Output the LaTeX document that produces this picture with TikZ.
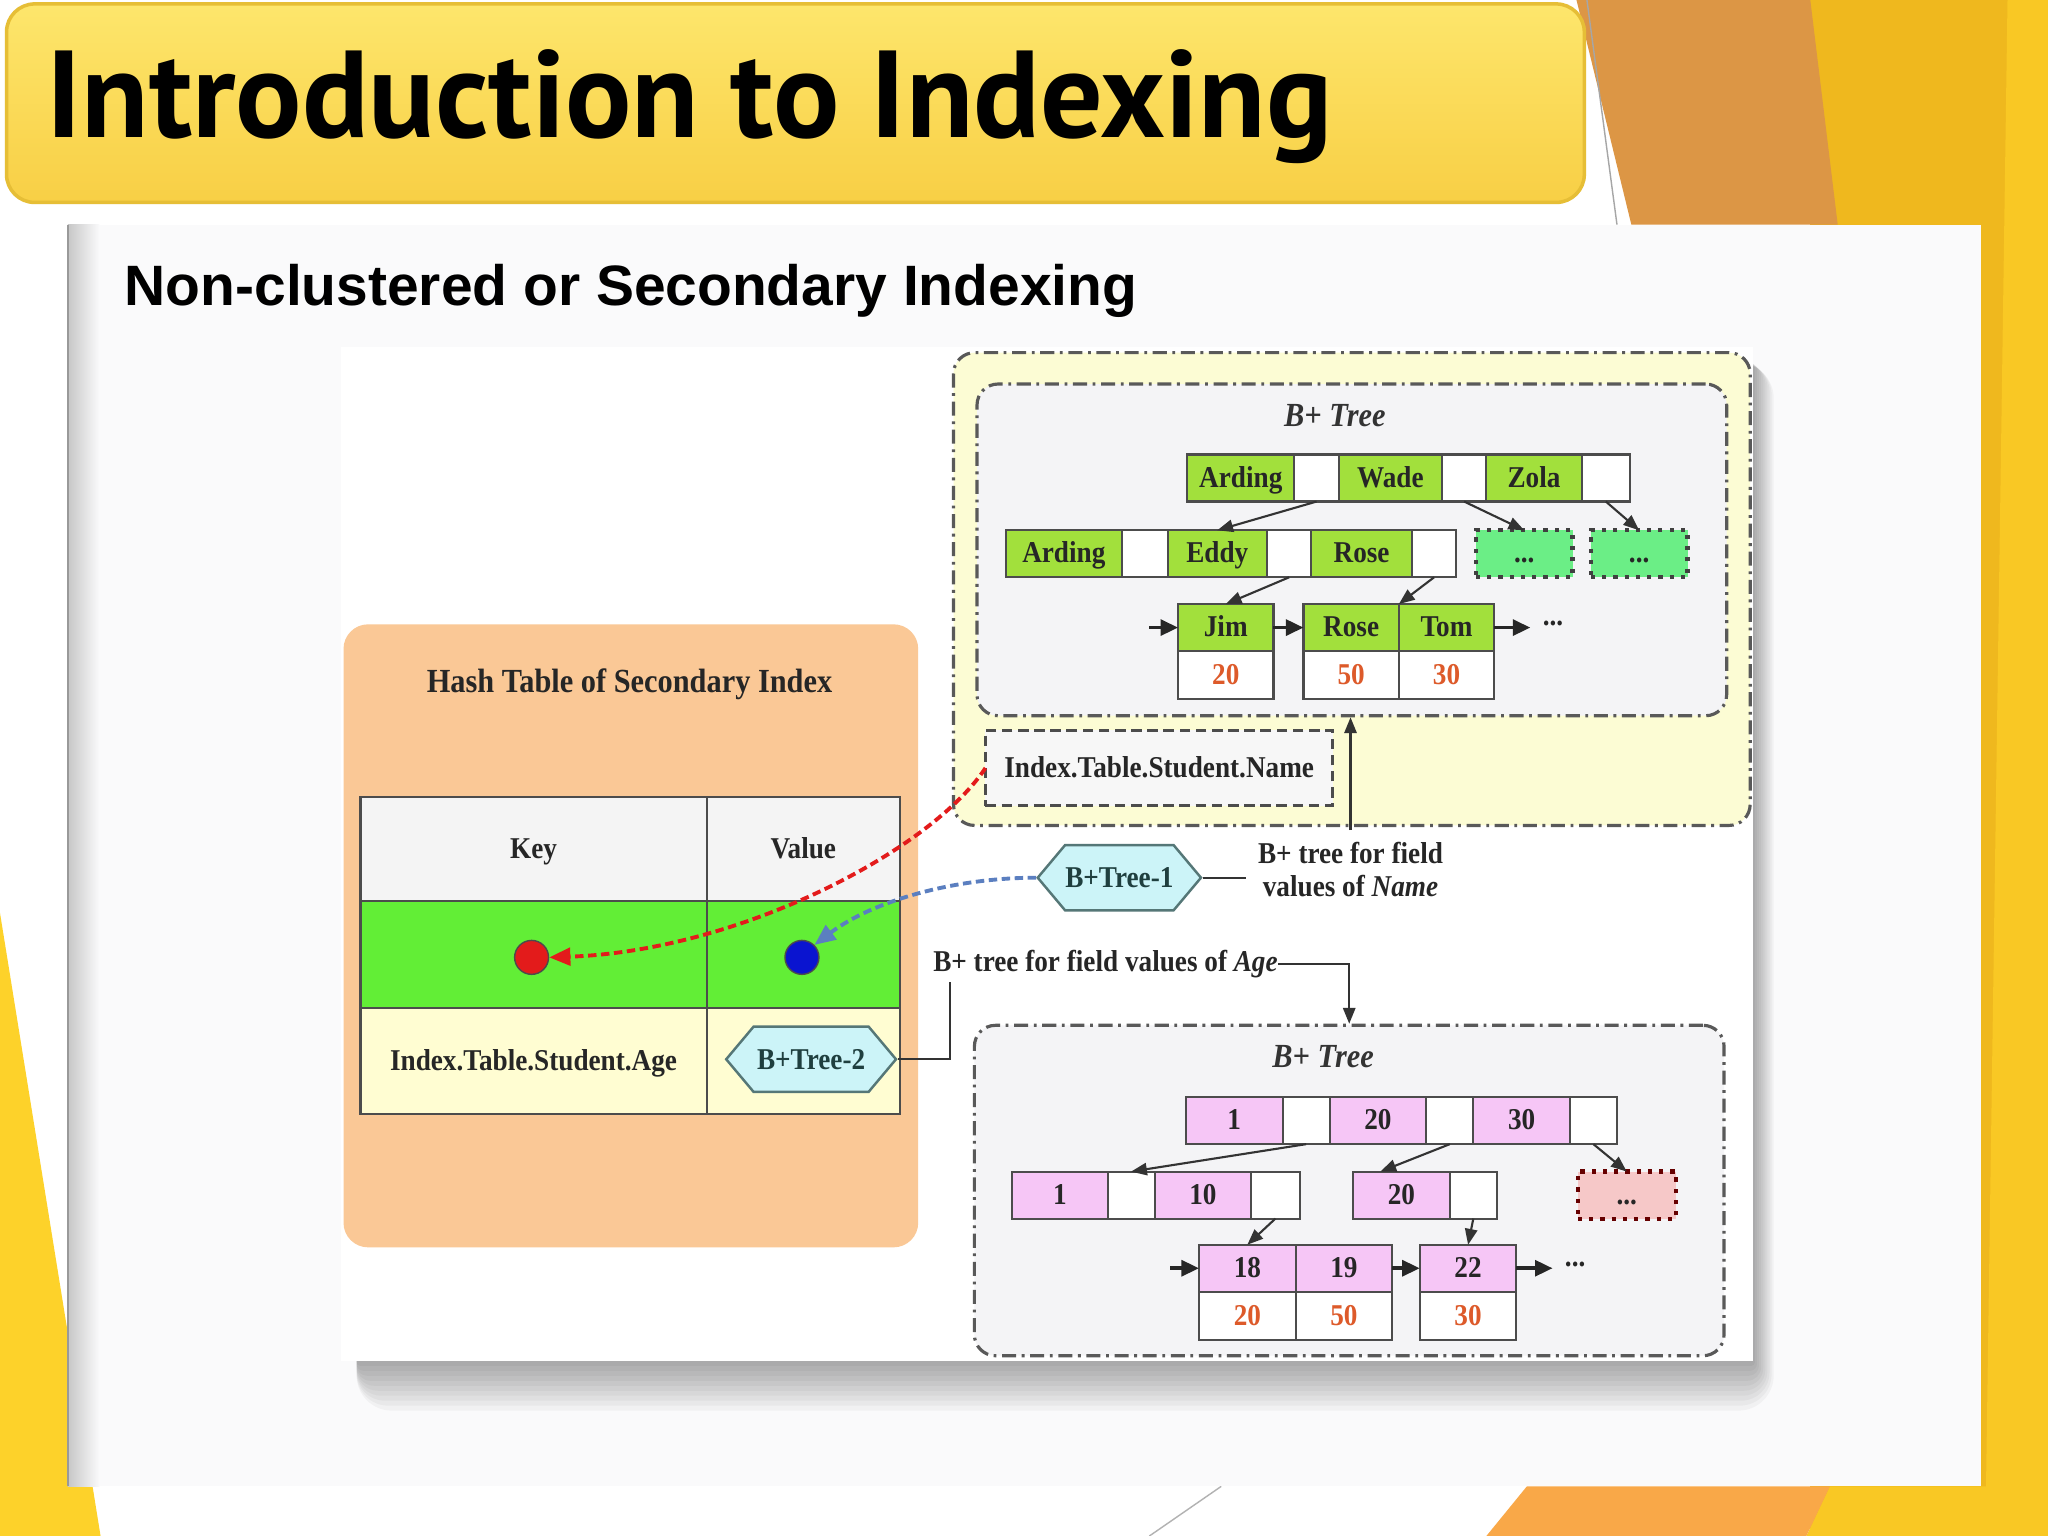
\documentclass[tikz,border=0pt]{standalone}
\usepackage{fontspec}
\setmainfont{Liberation Serif}[FakeStretch=0.9]
\newfontfamily\headfont{PT Sans}
\newfontfamily\subfont{Liberation Sans}
\usetikzlibrary{arrows.meta, positioning, shapes.symbols}
\definecolor{BannerTop}{HTML}{FDE66C}
\definecolor{BannerBot}{HTML}{F8CF45}
\definecolor{BannerEdge}{HTML}{E6BE36}
\definecolor{FacetOrange}{HTML}{DC9645}
\definecolor{FacetAmber}{HTML}{EFB81E}
\definecolor{FacetYellow}{HTML}{F9C824}
\definecolor{FacetPeach}{HTML}{F9A848}
\definecolor{FacetLeft}{HTML}{FDD22A}
\definecolor{PanelBg}{HTML}{FAFAFB}
\definecolor{HashPeach}{HTML}{FAC896}
\definecolor{HeadGray}{HTML}{F4F4F4}
\definecolor{RowGreen}{HTML}{62EE36}
\definecolor{RowCream}{HTML}{FFFDD2}
\definecolor{TreeCream}{HTML}{FCFCD4}
\definecolor{TreeGray}{HTML}{F4F4F6}
\definecolor{LeafGreen}{HTML}{A2E03C}
\definecolor{MintDots}{HTML}{6BEE86}
\definecolor{KeyPink}{HTML}{F6C6F6}
\definecolor{PinkDots}{HTML}{F6C8C8}
\definecolor{ValRed}{HTML}{DD5A2A}
\definecolor{HexCyan}{HTML}{CCF4F8}
\definecolor{HexEdge}{HTML}{557777}
\definecolor{HexText}{HTML}{1F3F3F}
\definecolor{DotRed}{HTML}{E31B1B}
\definecolor{DotBlue}{HTML}{0A14D0}
\definecolor{LinkBlue}{HTML}{5B7FC0}
\def\ux{0.3716pt}

\begin{document}
\begin{tikzpicture}[
    x=0.01306cm, y=-0.01306cm,
    txt/.style={font=\fontsize{8.6}{10}\selectfont\bfseries, text=black!85},
    wd/.style={minimum width=#1*\ux},
    cell/.style={txt, draw=black!70, line width=0.6pt, minimum height=36*\ux, inner sep=0pt, outer sep=0pt, text height=6.6pt, text depth=1.4pt},
    gcell/.style={cell, fill=LeafGreen},
    pcell/.style={cell, fill=KeyPink},
    ecell/.style={cell, fill=white},
    vcell/.style={cell, fill=white, text=ValRed, minimum height=37*\ux},
    dotbox/.style={cell, draw=black!75, line width=1.2pt, dotted},
    frame/.style={draw=black!65, line width=0.9pt, dash pattern=on 4pt off 1.6pt on 0.8pt off 1.6pt, rounded corners=6pt, inner sep=0pt},
    hexa/.style={signal, signal to=east and west, signal pointer angle=100, draw=HexEdge, line width=0.7pt, fill=HexCyan, txt, text=HexText, minimum height=50*\ux, inner sep=0pt},
    link/.style={-{Triangle[length=4.5pt,width=3.5pt]}, line width=0.6pt, draw=black!80},
    next/.style={-{Triangle[length=5pt,width=4.5pt]}, line width=1pt, draw=black!85},
    ttl/.style={font=\fontsize{9.6}{11}\selectfont\bfseries\itshape, text=black!80}
]
\useasboundingbox (0,0) rectangle (1568,1176);
\fill[white] (0,0) rectangle (1568,1176);

% slide background
\fill[FacetAmber] (1386,0) -- (1568,0) -- (1568,1176) -- (1386,1176) -- cycle;
\fill[FacetYellow] (1537,0) -- (1568,0) -- (1568,1176) -- (1520,1176) -- cycle;
\fill[FacetOrange] (1207,0) -- (1386,0) -- (1407,172) -- (1249,172) -- cycle;
\draw[black!35, line width=0.4pt] (1215,0) -- (1238,172);
\fill[FacetYellow] (1401,1138) -- (1568,1138) -- (1568,1176) -- (1383,1176) -- cycle;
\fill[FacetPeach] (1169,1138) -- (1401,1138) -- (1383,1176) -- (1138,1176) -- cycle;
\draw[black!30, line width=0.4pt] (935,1138) -- (880,1176);
\fill[FacetLeft] (0,699) -- (77,1176) -- (0,1176) -- cycle;

% title banner
\shade[top color=BannerTop, bottom color=BannerBot, draw=BannerEdge, line width=1pt, rounded corners=8pt] (5,3) rectangle (1213,155);
\node[anchor=base west, inner sep=0pt, font=\headfont\bfseries\fontsize{35.2}{40}\selectfont] (title) at (35,105) {Introduction to Indexing};

% white panel
\fill[PanelBg] (52,172) rectangle (1517,1138);
\shade[left color=black!22, right color=PanelBg] (52,172) rectangle (76,1138);
\draw[black!40, line width=0.5pt] (52,172) -- (52,1138);
\node[anchor=base west, inner sep=0pt, font=\subfont\bfseries\fontsize{16.2}{19}\selectfont] (subtitle) at (95,234) {Non-clustered or Secondary Indexing};

% picture with its shadow
\foreach \i in {1,...,10}
  \fill[black, opacity=0.035, rounded corners=\i] (273,278) rectangle (1342+1.6*\i,1042+3.8*\i);
\fill[white] (261,266) rectangle (1342,1042);

% --- hash table ---
\fill[HashPeach, rounded corners=7pt] (263,478) rectangle (703,955);
\node[txt, font=\fontsize{9.6}{11}\selectfont\bfseries] (hashtitle) at (482,524) {Hash Table of Secondary Index};
\node[cell, fill=HeadGray, wd=265, minimum height=80*\ux] (keyhead) at (408.5,650) {Key};
\node[cell, fill=HeadGray, wd=148, minimum height=80*\ux] (valhead) at (615,650) {Value};
\node[cell, fill=RowGreen, wd=265, minimum height=82*\ux] (keyrow) at (408.5,731) {};
\node[cell, fill=RowGreen, wd=148, minimum height=82*\ux] (valrow) at (615,731) {};
\node[cell, fill=RowCream, wd=265, minimum height=81*\ux] (agekey) at (408.5,812.5) {Index.Table.Student.Age};
\node[cell, fill=RowCream, wd=148, minimum height=81*\ux] (ageval) at (615,812.5) {};
\node[circle, fill=DotRed, draw=black!70, minimum size=26*\ux, inner sep=0pt] (rdot) at (407,733) {};
\node[circle, fill=DotBlue, draw=black!70, minimum size=26*\ux, inner sep=0pt] (bdot) at (614,733) {};
\node[hexa, wd=130] (hx2) at (621,811) {B+Tree-2};

% --- B+ tree on Name ---
\node[frame, fill=TreeCream, wd=610, minimum height=362*\ux] (ubox) at (1035,451) {};
\node[frame, fill=TreeGray, wd=574, minimum height=254*\ux] (ibox) at (1035,421) {};
\node[ttl] (utitle) at (1022,318) {B+ Tree};
\node[gcell, wd=82, anchor=west] (a1) at (909,366) {Arding};
\node[ecell, wd=34, right=0pt of a1] (a1b) {};
\node[gcell, wd=79, right=0pt of a1b] (a2) {Wade};
\node[ecell, wd=34, right=0pt of a2] (a2b) {};
\node[gcell, wd=73, right=0pt of a2b] (a3) {Zola};
\node[ecell, wd=37, right=0pt of a3] (a3b) {};
\node[gcell, wd=89, anchor=west] (b1) at (770,424) {Arding};
\node[ecell, wd=35, right=0pt of b1] (b1b) {};
\node[gcell, wd=76, right=0pt of b1b] (b2) {Eddy};
\node[ecell, wd=34, right=0pt of b2] (b2b) {};
\node[gcell, wd=77, right=0pt of b2b] (b3) {Rose};
\node[ecell, wd=34, right=0pt of b3] (b3b) {};
\node[dotbox, fill=MintDots, wd=74] (d1) at (1167,424) {...};
\node[dotbox, fill=MintDots, wd=74] (d2) at (1255,424) {...};
\node[gcell, wd=73] (l1) at (938.5,480.5) {Jim};
\node[vcell, wd=73, below=0pt of l1] (v1) {20};
\node[gcell, wd=73] (l2) at (1034.5,480.5) {Rose};
\node[gcell, wd=73, right=0pt of l2] (l3) {Tom};
\node[vcell, wd=73, below=0pt of l2] (v2) {50};
\node[vcell, wd=73, below=0pt of l3] (v3) {30};
\node[txt] (umore) at (1189,477) {...};
\coordinate (uin) at (880,480.5);
\draw[link] (a1b.south) -- (b2.north);
\draw[link] (a2b.south) -- (d1.north);
\draw[link] (a3b.south) -- (d2.north);
\draw[link] (b2b.south) -- (l1.north);
\draw[link] (b3b.south) -- (l2.north east);
\draw[next] (uin) -- (l1.west);
\draw[next] (l1.east) -- (l2.west);
\draw[next] (l3.east) -- (l3.east -| umore.west);

\node[cell, fill=white!97!black, dashed, dash pattern=on 3pt off 1.6pt, line width=0.9pt, wd=266, minimum height=58*\ux] (namebox) at (887.5,588) {Index.Table.Student.Name};
\node[txt, align=center, font=\fontsize{8.6}{9.4}\selectfont\bfseries] (nlabel) at (1034,666) {B+ tree for field\\values of \textit{Name}};
\node[hexa, wd=125] (hx1) at (857,672) {B+Tree-1};
\draw[link] (nlabel.north) -- (nlabel.north |- ibox.south);
\draw[line width=0.6pt, black!80] (hx1.east) -- (hx1.east -| nlabel.west);

% pointers out of the hash table
\draw[DotRed, line width=1.1pt, dash pattern=on 2.4pt off 1.3pt, -{Triangle[length=6pt,width=5pt]}] (namebox.west) .. controls (712,652) and (565,728) .. (rdot.east);
\draw[LinkBlue, line width=1.1pt, dash pattern=on 2.4pt off 1.3pt, -{Triangle[length=6pt,width=5pt]}] (hx1.west) .. controls (730,672) and (668,690) .. (bdot.north east);

% --- B+ tree on Age ---
\node[txt, anchor=west, inner sep=0pt] (alabel) at (714,738) {B+ tree for field values of \textit{Age}};
\coordinate (agefoot) at (727,752);
\node[frame, fill=TreeGray, wd=574, minimum height=253*\ux] (lbox) at (1033,911.5) {};
\node[ttl] (ltitle) at (1013,809) {B+ Tree};
\draw[link] (alabel.east) -| (lbox.north);
\draw[line width=0.6pt, black!80] (hx2.east) -| (agefoot);

\node[pcell, wd=74, anchor=west] (p1) at (908,858) {1};
\node[ecell, wd=36, right=0pt of p1] (p1b) {};
\node[pcell, wd=74, right=0pt of p1b] (p2) {20};
\node[ecell, wd=36, right=0pt of p2] (p2b) {};
\node[pcell, wd=74, right=0pt of p2b] (p3) {30};
\node[ecell, wd=36, right=0pt of p3] (p3b) {};
\node[pcell, wd=73, anchor=west] (q1) at (775,915) {1};
\node[ecell, wd=36, right=0pt of q1] (q1b) {};
\node[pcell, wd=74, right=0pt of q1b] (q2) {10};
\node[ecell, wd=37, right=0pt of q2] (q2b) {};
\node[pcell, wd=74, anchor=west] (q3) at (1036,915) {20};
\node[ecell, wd=36, right=0pt of q3] (q3b) {};
\node[dotbox, fill=PinkDots, draw=black!60!red, wd=75] (qd) at (1245.5,915) {...};
\node[pcell, wd=74] (r1) at (955,971) {18};
\node[pcell, wd=74, right=0pt of r1] (r2) {19};
\node[pcell, wd=74] (r3) at (1124,971) {22};
\node[vcell, wd=74, below=0pt of r1] (w1) {20};
\node[vcell, wd=74, below=0pt of r2] (w2) {50};
\node[vcell, wd=74, below=0pt of r3] (w3) {30};
\node[txt] (lmore) at (1206,968) {...};
\coordinate (lin) at (896,971);
\draw[link] (p1b.south) -- (q1b.north);
\draw[link] (p2b.south) -- ([xshift=-6pt]q3.north);
\draw[link] (p3b.south) -- (qd.north);
\draw[link] (q2b.south) -- (r1.north);
\draw[link] (q3b.south) -- (r3.north);
\draw[next] (lin) -- (r1.west);
\draw[next] (r2.east) -- (r3.west);
\draw[next] (r3.east) -- (r3.east -| lmore.west);
\end{tikzpicture}
\end{document}
